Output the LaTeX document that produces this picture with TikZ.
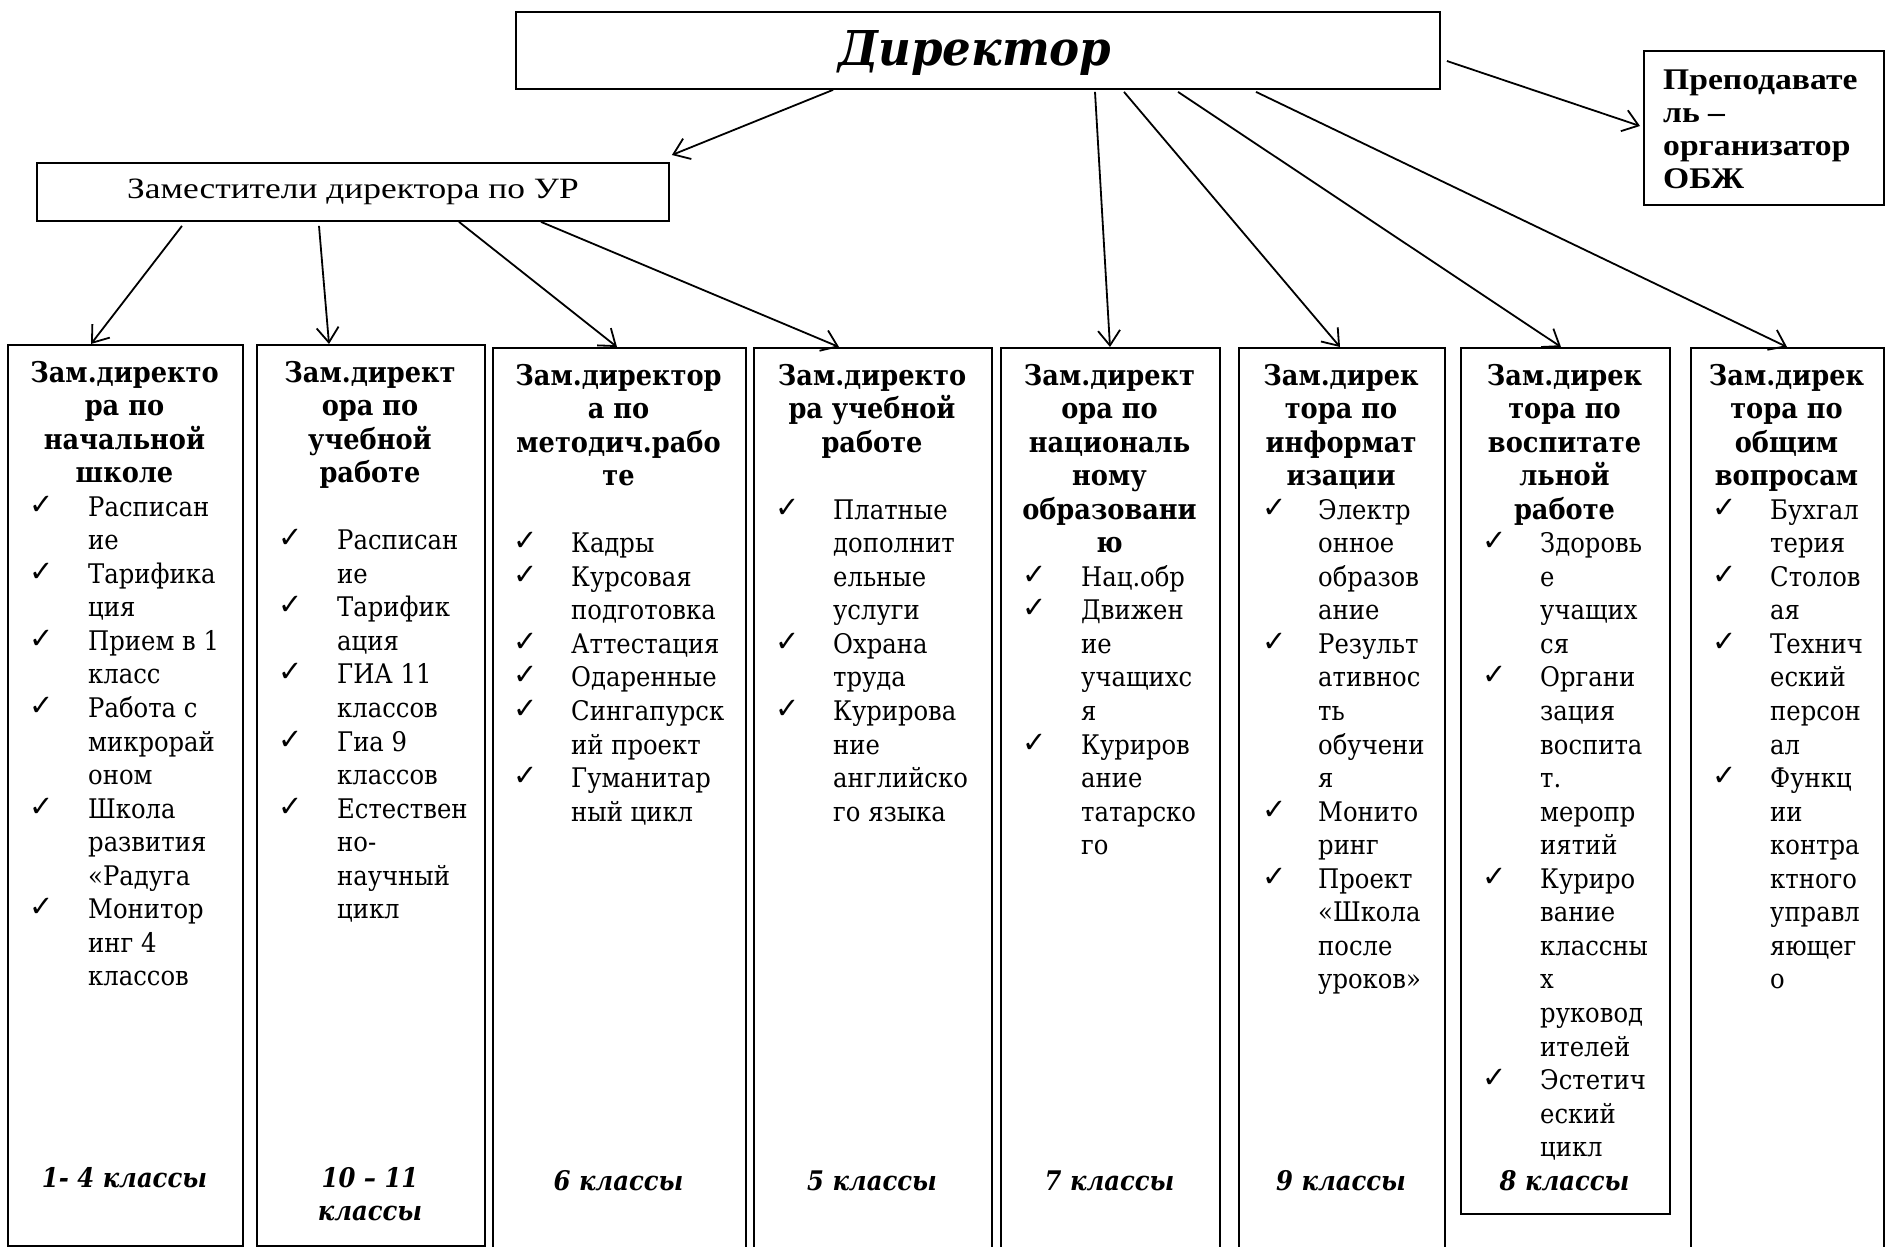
\documentclass[tikz,border=0pt]{standalone}
\usepackage{fontspec}
\setmainfont{DejaVu Serif}[FakeStretch=0.9]
\newfontfamily\tnr{Liberation Serif}[FakeStretch=1.2]
\newfontfamily\tnrb{Liberation Serif}[FakeStretch=1.12]
\newfontfamily\chkfont{DejaVu Sans}
\newfontfamily\dirfont{DejaVu Serif}[FakeStretch=0.94]
\usetikzlibrary{arrows.meta,calc}
\tikzset{
  box/.style={draw, line width=1.9pt, inner sep=0pt, anchor=north west},
  conn/.style={line width=1.8pt, -{Straight Barb[length=15pt,width=22pt,line width=1.8pt]}},
  hd/.style={inner sep=0pt, anchor=base, font=\fontsize{28.5}{33.55}\selectfont\bfseries},
  it/.style={inner sep=0pt, anchor=base west, font=\fontsize{27}{33.55}\selectfont},
  ck/.style={inner sep=0pt, anchor=base west, font=\chkfont\fontsize{29}{30}\selectfont},
  lab/.style={inner sep=0pt, anchor=base, font=\fontsize{27}{33.55}\selectfont\bfseries\itshape},
  obt/.style={inner sep=0pt, anchor=base west, font=\tnrb\fontsize{30}{33}\selectfont\bfseries},
}
\newcommand\mkhead[4]{%
  \foreach \t [count=\k from 0] in {#4} {\node[hd] (#1h\k) at (#2, #3+\k*33.55) {\t};}}
\newcommand\mkitems[6]{%
  \foreach \m/\t [count=\k from #5] in {#6} {%
    \node[it] (#1i\k) at (#3, #4+\k*33.55) {\t};
    \if c\m \node[ck] (#1c\k) at (#2, #4+\k*33.55-2) {✓};\fi
  }}
\begin{document}
\begin{tikzpicture}[x=1pt,y=-1pt]
\useasboundingbox (0,0) rectangle (1885,1247);
\clip (0,0) rectangle (1885,1247);
% top boxes
\node[box, minimum width=924pt, minimum height=77pt] (dir) at (515,11) {};
\node[inner sep=0pt, anchor=base, font=\dirfont\fontsize{48}{52}\selectfont\bfseries\itshape]
  (dirt) at (975,66) {Директор};
\node[box, minimum width=632pt, minimum height=58pt,
      font=\tnr\fontsize{29.5}{33}\selectfont] (zur) at (36,162) {Заместители директора по УР};
\node[box, minimum width=240pt, minimum height=154pt] (ob) at (1643,50) {};
\foreach \t [count=\k from 0] in {Преподавате, ль –, организатор, ОБЖ}
  {\node[obt] (obt\k) at (1663, 89+\k*33) {\t};}
% column boxes
\node[box, minimum width=235pt, minimum height=901pt] (b1) at (7,344) {};
\node[box, minimum width=228pt, minimum height=901pt] (b2) at (256,344) {};
\node[box, minimum width=253pt, minimum height=960pt] (b3) at (492,347) {};
\node[box, minimum width=238pt, minimum height=960pt] (b4) at (753,347) {};
\node[box, minimum width=219pt, minimum height=960pt] (b5) at (1000,347) {};
\node[box, minimum width=206pt, minimum height=960pt] (b6) at (1238,347) {};
\node[box, minimum width=209pt, minimum height=866pt] (b7) at (1460,347) {};
\node[box, minimum width=193pt, minimum height=960pt] (b8) at (1690,347) {};
% column 1
\mkhead{ka}{124.5}{382}{Зам.директо, ра по, начальной, школе}
\mkitems{ka}{29}{88}{382}{4}{c/Расписан, n/ие, c/Тарифика, n/ция, c/Прием в 1, n/класс, c/Работа с, n/микрорай, n/оном, c/Школа, n/развития, n/«Радуга, c/Монитор, n/инг 4, n/классов}
\node[lab] (kalab) at (124.5, 382+24*33.55) {1- 4 классы};
% column 2
\mkhead{kb}{370}{382}{Зам.директ, ора по, учебной, работе}
\mkitems{kb}{278}{337}{382}{5}{c/Расписан, n/ие, c/Тарифик, n/ация, c/ГИА 11, n/классов, c/Гиа 9, n/классов, c/Естествен, n/но-, n/научный, n/цикл}
\node[lab] (kblab) at (370, 382+24*33.55) {10 – 11};
\node[lab] (kblabb) at (370, 382+25*33.55) {классы};
% column 3
\mkhead{kc}{618.5}{385}{Зам.директор, а по, методич.рабо, те}
\mkitems{kc}{513}{571}{385}{5}{c/Кадры, c/Курсовая, n/подготовка, c/Аттестация, c/Одаренные, c/Сингапурск, n/ий проект, c/Гуманитар, n/ный цикл}
\node[lab] (kclab) at (618.5, 385+24*33.55) {6 классы};
% column 4
\mkhead{kd}{872}{385}{Зам.директо, ра учебной, работе}
\mkitems{kd}{775}{833}{385}{4}{c/Платные, n/дополнит, n/ельные, n/услуги, c/Охрана, n/труда, c/Курирова, n/ние, n/английско, n/го языка}
\node[lab] (kdlab) at (872, 385+24*33.55) {5 классы};
% column 5
\mkhead{ke}{1109.5}{385}{Зам.директ, ора по, националь, ному, образовани, ю}
\mkitems{ke}{1022}{1081}{385}{6}{c/Нац.обр, c/Движен, n/ие, n/учащихс, n/я, c/Куриров, n/ание, n/татарско, n/го}
\node[lab] (kelab) at (1109.5, 385+24*33.55) {7 классы};
% column 6
\mkhead{kf}{1341}{385}{Зам.дирек, тора по, информат, изации}
\mkitems{kf}{1262}{1318}{385}{4}{c/Электр, n/онное, n/образов, n/ание, c/Результ, n/ативнос, n/ть, n/обучени, n/я, c/Монито, n/ринг, c/Проект, n/«Школа, n/после, n/уроков»}
\node[lab] (kflab) at (1341, 385+24*33.55) {9 классы};
% column 7
\mkhead{kg}{1564.5}{385}{Зам.дирек, тора по, воспитате, льной, работе}
\mkitems{kg}{1482}{1540}{385}{5}{c/Здоровь, n/е, n/учащих, n/ся, c/Органи, n/зация, n/воспита, n/т., n/меропр, n/иятий, c/Куриро, n/вание, n/классны, n/х, n/руковод, n/ителей, c/Эстетич, n/еский, n/цикл}
\node[lab] (kglab) at (1564.5, 385+24*33.55) {8 классы};
% column 8
\mkhead{kh}{1786.5}{385}{Зам.дирек, тора по, общим, вопросам}
\mkitems{kh}{1712}{1770}{385}{4}{c/Бухгал, n/терия, c/Столов, n/ая, c/Технич, n/еский, n/персон, n/ал, c/Функц, n/ии, n/контра, n/ктного, n/управл, n/яющег, n/о}
% connectors
\draw[conn] ([xshift=318pt]dir.south west) -- ([xshift=2pt,yshift=7pt]zur.north east);
\draw[conn] ([xshift=146pt,yshift=-4pt]zur.south west) -- ([xshift=84pt]b1.north west);
\draw[conn] ([xshift=283pt,yshift=-4pt]zur.south west) -- ([xshift=73pt]b2.north west);
\draw[conn] ([xshift=423pt]zur.south west) -- ([xshift=125pt]b3.north west);
\draw[conn] ([xshift=505pt]zur.south west) -- ([xshift=86pt]b4.north west);
\draw[conn] ([xshift=580pt,yshift=-2pt]dir.south west) -- ([xshift=110pt]b5.north west);
\draw[conn] ([xshift=609pt,yshift=-2pt]dir.south west) -- ([xshift=102pt]b6.north west);
\draw[conn] ([xshift=663pt,yshift=-2pt]dir.south west) -- ([xshift=101pt]b7.north west);
\draw[conn] ([xshift=741pt,yshift=-2pt]dir.south west) -- ([xshift=97pt]b8.north west);
\draw[conn] ([xshift=6pt,yshift=-50pt]dir.north east) -- ([xshift=-3pt,yshift=-76pt]ob.north west);
\end{tikzpicture}
\end{document}
